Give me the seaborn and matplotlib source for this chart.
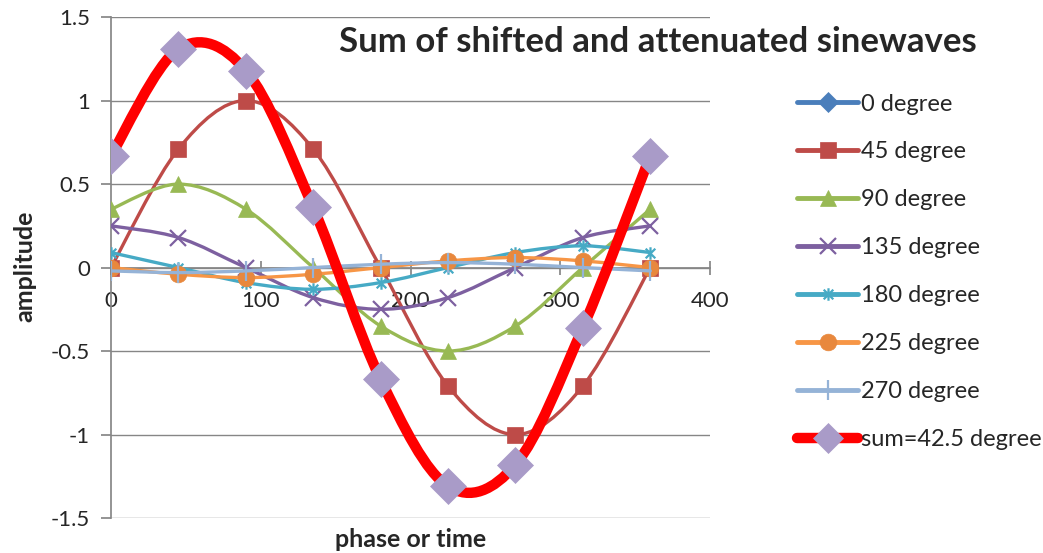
import matplotlib
matplotlib.use("Agg")
import matplotlib.pyplot as plt
from matplotlib.path import Path
from matplotlib.patches import PathPatch
from matplotlib.lines import Line2D
import seaborn as sns
import pandas as pd
import numpy as np

# ---- data ----
phase = [0, 45, 90, 135, 180, 225, 270, 315, 360]
deg0 = [np.nan] * 9  # nothing of this series shows in the chart, legend only
deg45 = [0, 0.71, 1.0, 0.71, 0, -0.71, -1.0, -0.71, 0]
deg90 = [0.35, 0.5, 0.35, 0, -0.35, -0.5, -0.35, 0, 0.35]
deg135 = [0.25, 0.18, 0, -0.18, -0.25, -0.18, 0, 0.18, 0.25]
deg180 = [0.09, 0, -0.09, -0.13, -0.09, 0, 0.09, 0.13, 0.09]
deg225 = [0, -0.04, -0.06, -0.04, 0, 0.04, 0.06, 0.04, 0]
deg270 = [-0.02, -0.03, -0.02, 0, 0.02, 0.03, 0.02, 0, -0.02]
total = [0.67, 1.31, 1.18, 0.36, -0.67, -1.31, -1.18, -0.36, 0.67]

labels = ["0 degree", "45 degree", "90 degree", "135 degree", "180 degree",
          "225 degree", "270 degree", "sum=42.5 degree"]
values = [deg0, deg45, deg90, deg135, deg180, deg225, deg270, total]

# excel style asterisk marker
star = Path([(-1, -1), (1, 1), (-1, 1), (1, -1), (0, -1.3), (0, 1.3)],
            [Path.MOVETO, Path.LINETO, Path.MOVETO, Path.LINETO, Path.MOVETO, Path.LINETO])

styles = [
    # line colour, marker, marker colour, marker size, line width, filled
    ("#4A7EBB", "D", "#4A7EBB", 10, 2.4, True),
    ("#BE4B48", "s", "#BE4B48", 11, 2.4, True),
    ("#98B954", "^", "#98B954", 12, 2.4, True),
    ("#7D60A0", "x", "#7D60A0", 11, 2.4, False),
    ("#46AAC5", star, "#46AAC5", 9, 2.4, False),
    ("#F79646", "o", "#E8883D", 12, 2.4, True),
    ("#95B3D7", "|", "#95B3D7", 14, 2.4, False),
    ("#FF0000", "D", "#A99BC8", 18, 7.5, True),
]

df = pd.DataFrame({"phase": phase})
for lab, v in zip(labels, values):
    df[lab] = v


def smooth_path(x, y):
    # Catmull-Rom style bezier through the points (like Excel "smoothed line")
    p = np.column_stack([x, y]).astype(float)
    n = len(p)
    verts = [p[0]]
    codes = [Path.MOVETO]
    for i in range(n - 1):
        p0 = p[i - 1] if i > 0 else p[i]
        p3 = p[i + 2] if i + 2 < n else p[i + 1]
        c1 = p[i] + (p[i + 1] - p0) / 6.0
        c2 = p[i + 1] - (p3 - p[i]) / 6.0
        verts += [c1, c2, p[i + 1]]
        codes += [Path.CURVE4] * 3
    return Path(verts, codes)


sns.set_theme(style="white")
plt.rcParams["font.family"] = ["Lato", "DejaVu Sans"]

fig = plt.figure(figsize=(10.43, 5.53), dpi=100)
ax = fig.add_axes([0.1064, 0.0633, 0.5745, 0.9057])

handles = []
for k, (lab, st) in enumerate(zip(labels, styles)):
    lc, mk, mc, ms, lw, filled = st
    z = 2 + k
    if df[lab].notna().any():
        patch = PathPatch(smooth_path(df["phase"], df[lab]), facecolor="none",
                          edgecolor=lc, lw=lw, zorder=z, capstyle="round", joinstyle="round")
        ax.add_patch(patch)
        sns.lineplot(data=df, x="phase", y=lab, ax=ax, linestyle="none",
                     marker=mk, markersize=ms, markerfacecolor=mc,
                     markeredgecolor=mc, markeredgewidth=1.6 if not filled else 0.5,
                     zorder=z + 0.5, legend=False)
    handles.append(Line2D([0], [0], color=lc, lw=lw if k == 7 else 3.5,
                          marker=mk, markersize=ms if k != 7 else 15,
                          markerfacecolor=mc, markeredgecolor=mc,
                          markeredgewidth=1.6 if not filled else 0.5,
                          solid_capstyle="round"))

ax.set_xlim(0, 400)
ax.set_ylim(-1.5, 1.5)
ax.set_xticks([0, 100, 200, 300, 400])
ax.set_yticks([-1.5, -1, -0.5, 0, 0.5, 1, 1.5])
ax.set_yticklabels(["-1.5", "-1", "-0.5", "0", "0.5", "1", "1.5"])
ax.yaxis.grid(True, color="#868686", lw=1)
ax.set_axisbelow(True)

for s in ["top", "right"]:
    ax.spines[s].set_visible(False)
ax.spines["left"].set_color("#868686")
ax.spines["bottom"].set_color("#868686")
ax.spines["bottom"].set_position(("data", 0))
ax.tick_params(axis="y", direction="out", length=7, color="#868686",
               labelsize=16, pad=8, left=True)
ax.tick_params(axis="x", direction="inout", length=10, color="#868686",
               labelsize=16, pad=12, bottom=True)

ax.set_xlabel("")
ax.set_ylabel("")
fig.text(0.394, 0.024, "phase or time", fontsize=18, fontweight="bold",
         ha="center", va="center")
fig.text(0.024, 0.519, "amplitude", fontsize=18, fontweight="bold",
         rotation=90, ha="center", va="center")
fig.text(0.631, 0.924, "Sum of shifted and attenuated sinewaves", fontsize=25,
         fontweight="bold", ha="center", va="center")

fig.legend(handles, labels, loc="upper left", bbox_to_anchor=(0.755, 0.848),
           frameon=False, fontsize=17, handlelength=2.6, handletextpad=0.1,
           labelspacing=1.14, borderaxespad=0)

fig.savefig("out.png", dpi=100)
